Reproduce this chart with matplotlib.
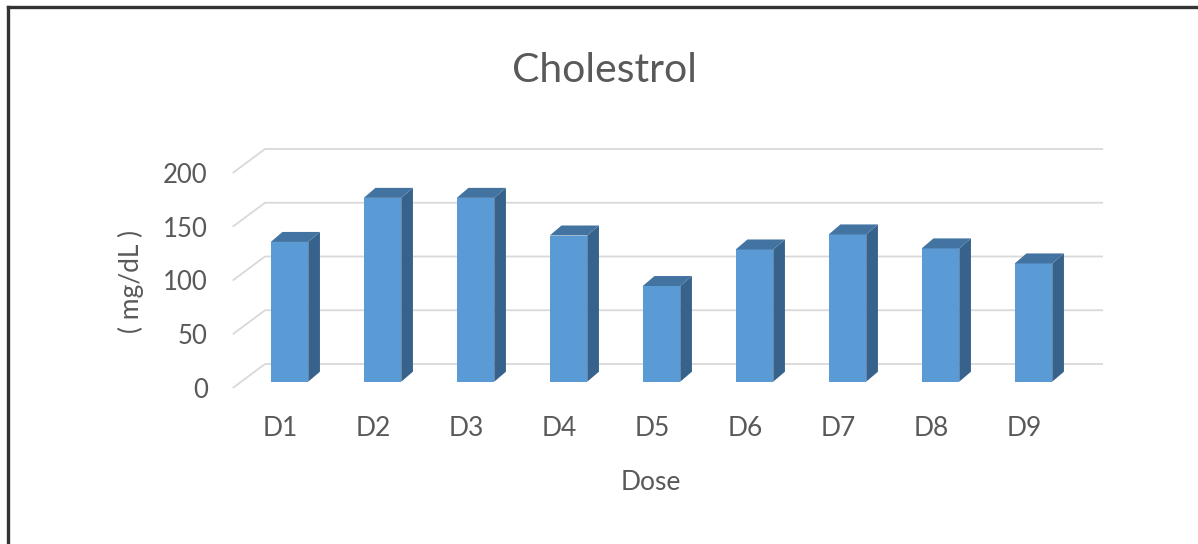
import matplotlib
matplotlib.use("Agg")
import matplotlib.pyplot as plt
from matplotlib.patches import Polygon
from matplotlib.lines import Line2D
import numpy as np

# ---- data ----
categories = ["D1", "D2", "D3", "D4", "D5", "D6", "D7", "D8", "D9"]
values = [130, 171, 171, 136, 89, 123, 137, 124, 110]
yticks = [0, 50, 100, 150, 200]
title = "Cholestrol"
xlabel = "Dose"
ylabel = "( mg/dL )"

# ---- style / layout ----
W, H = 1198, 544
DPI = 100
txt_color = "#595959"
grid_color = "#d9d9d9"
front_c = "#5B9BD5"
side_c = "#37628C"
top_c = "#4373A1"
font = "Lato"

plt.rcParams["font.family"] = [font, "DejaVu Sans"]

fig = plt.figure(figsize=(W / DPI, H / DPI), dpi=DPI)
fig.patch.set_facecolor("white")

# axes placement in pixels (front plane)
px_left, px_right, px_bottom, px_top = 232.7, 1110.0, 388.0, 140.0
cat_px = 93.0          # pixels per category
val_px = 1.075         # pixels per value unit
x0_px = 280.5          # pixel x of first category (front plane)

ax = fig.add_axes([px_left / W, (H - px_bottom) / H,
                   (px_right - px_left) / W, (px_bottom - px_top) / H])
ax.set_xlim((px_left - x0_px) / cat_px, (px_right - x0_px) / cat_px)
ax.set_ylim(0, (px_bottom - px_top) / val_px)
for s in ax.spines.values():
    s.set_visible(False)
ax.set_facecolor("none")

# depth offsets (data units)
wall_dx, wall_dy = 32.3 / cat_px, 24.0 / val_px
bar_fx, bar_fy = 9.0 / cat_px, 6.3 / val_px
bar_ddx, bar_ddy = 11.7 / cat_px, 10.0 / val_px
bar_w = 37.5 / cat_px
wall_end = (1103 - x0_px) / cat_px
xmin = ax.get_xlim()[0]

# gridlines: diagonal side wall + back wall
for v in yticks:
    ax.plot([xmin, xmin + wall_dx, wall_end], [v, v + wall_dy, v + wall_dy],
            color=grid_color, lw=1.3, zorder=1, clip_on=False,
            solid_capstyle="butt")

# bars
x = np.arange(len(categories))
xc = x + bar_fx
ax.bar(xc, values, width=bar_w, bottom=bar_fy, color=front_c,
       edgecolor="none", zorder=3)
for xi, v in zip(xc, values):
    xl, xr = xi - bar_w / 2, xi + bar_w / 2
    b, t = bar_fy, bar_fy + v
    side = Polygon([(xr, b), (xr + bar_ddx, b + bar_ddy),
                    (xr + bar_ddx, t + bar_ddy), (xr, t)],
                   closed=True, facecolor=side_c, edgecolor="none", zorder=3,
                   clip_on=False)
    top = Polygon([(xl, t), (xl + bar_ddx, t + bar_ddy),
                   (xr + bar_ddx, t + bar_ddy), (xr, t)],
                  closed=True, facecolor=top_c, edgecolor="none", zorder=3,
                  clip_on=False)
    ax.add_patch(side)
    ax.add_patch(top)

# ticks
ax.set_yticks(yticks)
ax.set_yticklabels([str(v) for v in yticks])
ax.set_xticks(x)
ax.set_xticklabels(categories)
ax.tick_params(axis="y", length=0, pad=18, labelsize=18.5, labelcolor=txt_color)
ax.tick_params(axis="x", length=0, pad=20, labelsize=19, labelcolor=txt_color)

# texts
fig.text(604 / W, 1 - 70 / H, title, ha="center", va="center",
         fontsize=29.5, color=txt_color)
fig.text(651 / W, 1 - 483 / H, xlabel, ha="center", va="center",
         fontsize=19, color=txt_color)
fig.text(131 / W, 1 - 281 / H, ylabel, ha="center", va="center",
         rotation=90, fontsize=19, color=txt_color)

# outer border (left and top visible)
fig.add_artist(Line2D([8 / W, 8 / W], [0, 1 - 7 / H], transform=fig.transFigure,
                      color="#333333", lw=2.4))
fig.add_artist(Line2D([8 / W, 1], [1 - 7 / H, 1 - 7 / H], transform=fig.transFigure,
                      color="#333333", lw=2.4))

fig.savefig("out.png", dpi=DPI, facecolor="white")
